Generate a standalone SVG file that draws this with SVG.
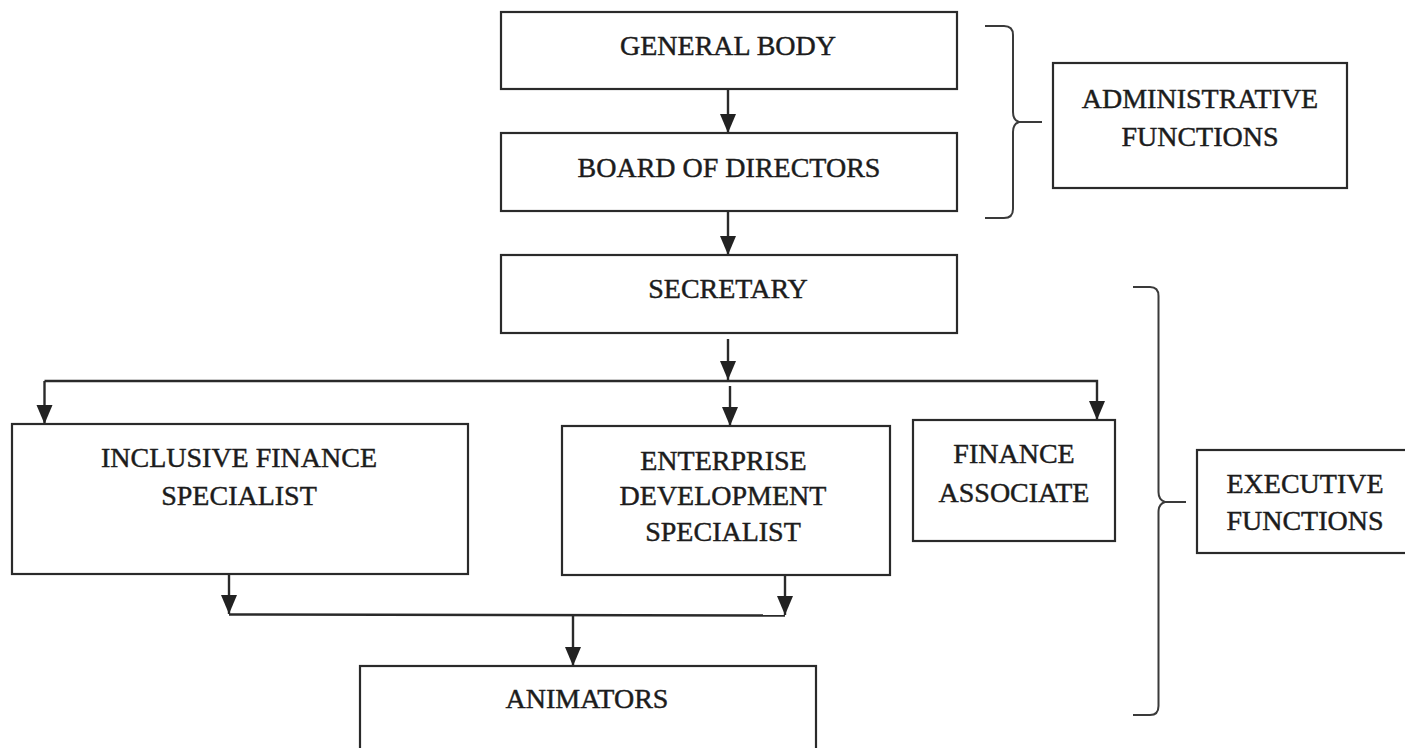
<svg xmlns="http://www.w3.org/2000/svg" width="1405" height="748" viewBox="0 0 1405 748">
  <style>
    .box { fill: #ffffff; stroke: #2a2a2a; stroke-width: 2.2; }
    .lbl { font-family: "Liberation Serif", "Times New Roman", serif; font-size: 28px; fill: #1c1c1c; stroke: #1c1c1c; stroke-width: 0.45; text-anchor: middle; }
    .conn { fill: none; stroke: #2a2a2a; stroke-width: 2.4; }
    .brace { fill: none; stroke: #3a3a3a; stroke-width: 2; }
  </style>
  <defs>
    <marker id="ah" markerUnits="userSpaceOnUse" markerWidth="20" markerHeight="20" viewBox="0 0 20 16" refX="19" refY="8" orient="auto">
      <path d="M0,0 L19,8 L0,16 Z" fill="#222"/>
    </marker>
  </defs>
  <rect width="1405" height="748" fill="#ffffff"/>

  <g id="connectors">
    <line class="conn" x1="728" y1="89" x2="728" y2="133" marker-end="url(#ah)"/>
    <line class="conn" x1="728" y1="211" x2="728" y2="255" marker-end="url(#ah)"/>
    <line class="conn" x1="728" y1="339" x2="728" y2="380" marker-end="url(#ah)"/>
    <polyline class="conn" points="44.5,381 1097,381 1097,420" marker-end="url(#ah)"/>
    <line class="conn" x1="44.5" y1="381" x2="44.5" y2="424" marker-end="url(#ah)"/>
    <line class="conn" x1="730" y1="386" x2="730" y2="426" marker-end="url(#ah)"/>
    <line class="conn" x1="229" y1="574" x2="229" y2="614" marker-end="url(#ah)"/>
    <line class="conn" x1="785" y1="575" x2="785" y2="615" marker-end="url(#ah)"/>
    <line class="conn" x1="229" y1="614.5" x2="785" y2="615.5"/>
    <line class="conn" x1="573" y1="615" x2="573" y2="666" marker-end="url(#ah)"/>
  </g>

  <g id="brace-admin">
    <path class="brace" d="M985,26 L1004,26 Q1013,26 1013,35 L1013,112 Q1013,120 1019,122 Q1013,124 1013,132 L1013,209 Q1013,218 1004,218 L985,218 M1019,122 L1042,122"/>
  </g>
  <g id="brace-exec">
    <path class="brace" d="M1133,287 L1150,287 Q1158.5,287 1158.5,296 L1158.5,492 Q1158.5,500 1165,502 Q1158.5,504 1158.5,512 L1158.5,706 Q1158.5,715 1150,715 L1133,715 M1165,502 L1186,502"/>
  </g>

  <g id="general-body">
    <rect class="box" x="501" y="12" width="456" height="77"/>
    <text class="lbl" x="728" y="55">GENERAL BODY</text>
  </g>
  <g id="board-of-directors">
    <rect class="box" x="501" y="133" width="456" height="78"/>
    <text class="lbl" x="729" y="177">BOARD OF DIRECTORS</text>
  </g>
  <g id="secretary">
    <rect class="box" x="501" y="255" width="456" height="78"/>
    <text class="lbl" x="728" y="298">SECRETARY</text>
  </g>
  <g id="inclusive-finance-specialist">
    <rect class="box" x="12" y="424" width="456" height="150"/>
    <text class="lbl" x="239" y="467">INCLUSIVE FINANCE</text>
    <text class="lbl" x="239" y="505">SPECIALIST</text>
  </g>
  <g id="enterprise-development-specialist">
    <rect class="box" x="562" y="426" width="328" height="149"/>
    <text class="lbl" x="723.5" y="470">ENTERPRISE</text>
    <text class="lbl" x="723" y="505">DEVELOPMENT</text>
    <text class="lbl" x="723" y="541">SPECIALIST</text>
  </g>
  <g id="finance-associate">
    <rect class="box" x="913" y="420" width="202" height="121"/>
    <text class="lbl" x="1014" y="463">FINANCE</text>
    <text class="lbl" x="1014" y="502">ASSOCIATE</text>
  </g>
  <g id="animators">
    <rect class="box" x="360" y="666" width="456" height="92"/>
    <text class="lbl" x="587" y="708">ANIMATORS</text>
  </g>
  <g id="administrative-functions">
    <rect class="box" x="1053" y="63" width="294" height="125"/>
    <text class="lbl" x="1200" y="108">ADMINISTRATIVE</text>
    <text class="lbl" x="1200" y="146">FUNCTIONS</text>
  </g>
  <g id="executive-functions">
    <rect class="box" x="1197" y="450" width="215" height="103"/>
    <text class="lbl" x="1305" y="493">EXECUTIVE</text>
    <text class="lbl" x="1305" y="530">FUNCTIONS</text>
  </g>
</svg>
